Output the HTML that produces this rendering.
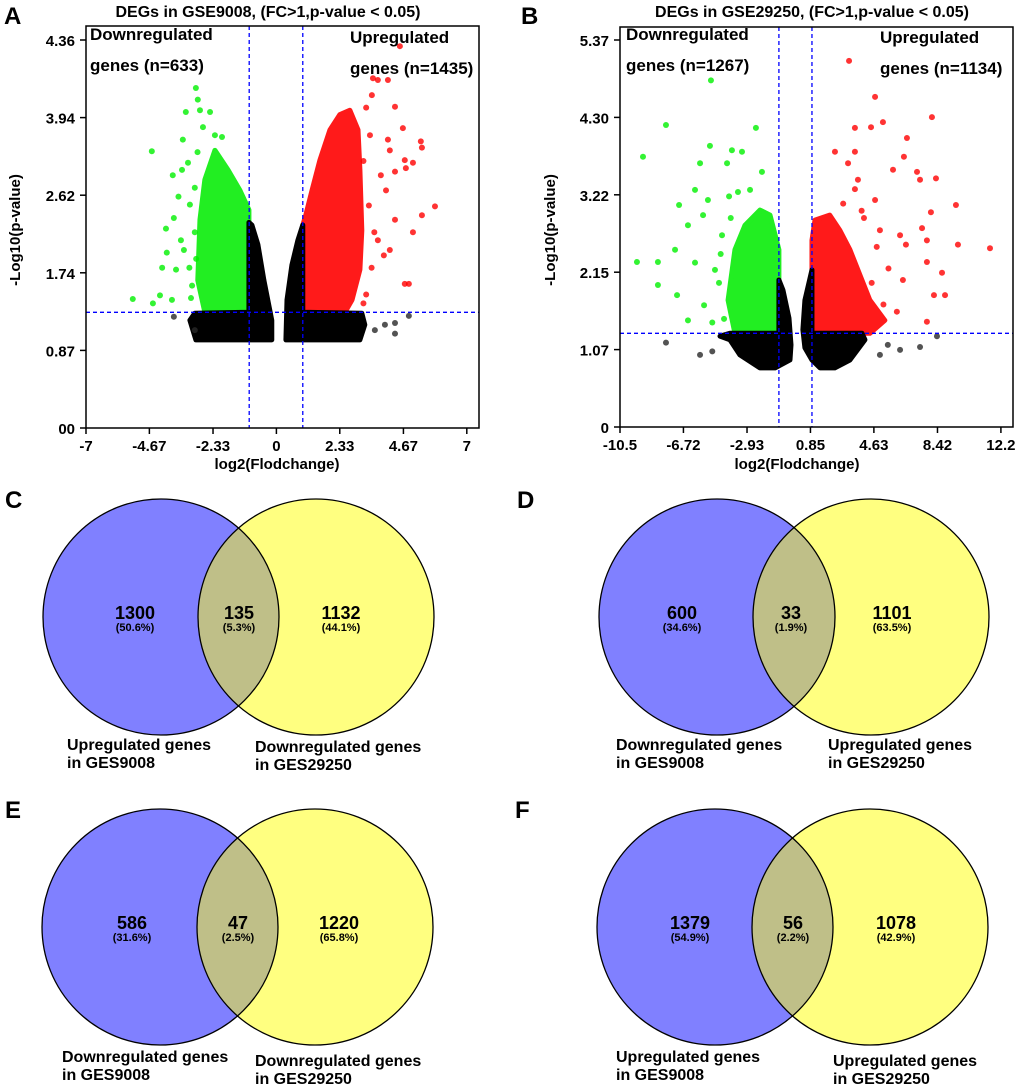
<!DOCTYPE html>
<html><head><meta charset="utf-8">
<style>
html,body{margin:0;padding:0;background:#fff;}
svg{display:block;font-family:"Liberation Sans",Arial,sans-serif;}
.t{font-weight:bold;font-size:16px;fill:#000;}
.tick{font-weight:bold;font-size:15px;fill:#000;}
.ann{font-weight:bold;font-size:17px;fill:#000;}
.lab{font-weight:bold;font-size:24px;fill:#000;}
.vn{font-weight:bold;font-size:18px;fill:#000;}
.vp{font-weight:bold;font-size:11px;fill:#000;}
.vl{font-weight:bold;font-size:16px;fill:#000;}
</style></head>
<body>
<svg id="fig" width="1020" height="1089" viewBox="0 0 1020 1089"></svg>
<script>
// ---------- Panel A data ----------
const aXTicks=[-7,-4.67,-2.33,0,2.33,4.67,7];
const aYTickLabels=["00","0.87","1.74","2.62","3.94","4.36"];
const aGreenPts=[[-2.96,3.82],[-2.89,3.69],[-3.33,3.55],[-2.81,3.57],[-2.44,3.55],[-2.70,3.38],[-3.44,3.24],[-2.26,3.29],[-4.58,3.11],[-3.81,2.84],[-3.25,2.98],[-2.00,3.27],[-3.47,2.90],[-4.06,2.24],[-3.77,2.36],[-4.03,1.97],[-3.84,1.44],[-5.28,1.45],[-4.54,1.40],[-4.28,1.49],[-3.14,1.46],[-3.69,1.78],[-3.40,2.00],[-3.51,2.11],[-3.18,2.51],[-3.6,2.6],[-3.0,2.2],[-3.2,1.8],[-2.9,3.1],[-3.1,1.6],[-4.2,1.8],[-3.0,2.7],[-2.95,1.9]];
const aRedPts=[[4.54,4.29],[3.73,3.91],[3.55,3.93],[4.10,3.91],[4.36,3.61],[4.65,3.37],[4.10,3.24],[4.17,3.12],[4.72,3.01],[5.31,3.22],[5.35,3.15],[5.02,2.98],[4.36,2.88],[4.76,2.92],[5.83,2.49],[5.35,2.39],[5.02,2.20],[4.03,2.67],[3.84,2.84],[4.72,1.62],[4.87,1.62],[3.73,2.11],[3.95,1.94],[3.44,3.29],[3.51,3.74],[4.17,2.00],[4.36,2.34],[3.3,1.5],[3.5,1.8],[3.4,2.5],[3.2,3.0],[3.6,2.2],[3.3,3.6],[3.2,1.4]];
const aGrayPts=[[-3.77,1.25],[-3.0,1.10],[3.99,1.16],[4.36,1.18],[4.87,1.26],[4.36,1.06],[3.62,1.10]];
const aBlackLeft=[[-2.96,0.99],[-0.17,0.99],[-0.17,1.21],[-0.46,1.66],[-0.68,2.06],[-0.90,2.28],[-1.01,2.31],[-1.01,1.30],[-3.0,1.29],[-3.18,1.21]];
const aBlackRight=[[0.35,0.99],[3.07,0.99],[3.25,1.16],[3.14,1.29],[0.97,1.30],[0.97,2.28],[0.79,2.11],[0.57,1.83],[0.39,1.44]];
const aGreenDense=[[-2.63,1.30],[-1.01,1.30],[-1.01,2.45],[-1.34,2.67],[-1.78,2.90],[-2.26,3.12],[-2.63,2.79],[-2.81,2.34],[-2.89,1.66]];
const aRedDense=[[0.97,1.30],[2.52,1.30],[2.78,1.44],[3.07,1.78],[3.14,2.22],[3.07,2.90],[3.00,3.35],[2.70,3.57],[2.33,3.52],[1.97,3.35],[1.60,3.01],[1.31,2.67],[1.08,2.39],[0.97,2.28]];
// ---------- Panel B data ----------
const bXTicks=[-10.5,-6.72,-2.93,0.85,4.63,8.42,12.2];
const bYTickLabels=["0","1.07","2.15","3.22","4.30","5.37"];
const bGreenPts=[[-5.08,4.81],[-7.76,4.19],[-2.40,4.15],[-9.13,3.75],[-5.14,3.90],[-3.83,3.84],[-3.23,3.82],[-5.73,3.66],[-4.12,3.66],[-2.04,3.54],[-6.03,3.29],[-2.75,3.29],[-6.98,3.08],[-5.26,3.15],[-3.47,3.26],[-5.55,2.94],[-6.45,2.80],[-7.22,2.46],[-6.03,2.28],[-8.24,2.29],[-9.49,2.29],[-8.24,1.97],[-7.10,1.83],[-6.45,1.48],[-5.49,1.69],[-4.84,2.18],[-4.42,2.66],[-4.3,1.5],[-4.6,2.0],[-4.0,3.2],[-3.9,2.9],[-4.5,2.4],[-5.0,1.45]];
const bRedPts=[[3.15,5.08],[4.70,4.58],[8.09,4.30],[5.17,4.23],[3.50,4.15],[4.46,4.16],[6.60,4.01],[2.31,3.82],[3.50,3.82],[6.42,3.75],[5.77,3.57],[3.09,3.66],[3.68,3.43],[4.70,3.15],[4.04,2.90],[7.20,3.54],[7.38,3.43],[8.33,3.45],[9.52,3.08],[8.03,2.98],[7.50,2.76],[6.19,2.66],[4.99,2.73],[6.54,2.53],[7.79,2.29],[8.69,2.14],[8.87,1.83],[6.36,2.04],[9.64,2.53],[11.55,2.48],[7.79,2.59],[8.21,1.83],[7.79,1.46],[4.5,2.0],[5.2,1.7],[5.5,2.2],[3.5,3.3],[4.8,2.5],[6.0,1.6],[3.9,3.0],[2.8,3.1]];
const bGrayPts=[[-7.76,1.17],[-5.73,1.00],[7.38,1.11],[8.39,1.26],[5.46,1.14],[6.19,1.07],[4.99,1.00],[-5.0,1.05]];
const bBlackLeft=[[-3.95,1.21],[-3.35,1.00],[-2.16,0.82],[-1.26,0.82],[-0.37,0.93],[-0.31,1.14],[-0.43,1.51],[-0.79,1.90],[-1.03,2.04],[-1.03,1.30],[-3.95,1.30],[-4.54,1.26]];
const bBlackRight=[[0.94,2.18],[0.94,1.30],[3.92,1.30],[4.10,1.21],[3.20,0.93],[2.30,0.82],[1.42,0.82],[0.94,0.93],[0.52,1.10],[0.40,1.35],[0.52,1.76]];
const bGreenDense=[[-3.65,1.30],[-1.03,1.30],[-1.03,2.46],[-1.56,2.94],[-2.16,3.01],[-3.05,2.80],[-3.65,2.46],[-4.06,1.76]];
const bRedDense=[[0.94,1.30],[4.39,1.30],[5.28,1.48],[4.39,1.76],[3.20,2.46],[2.60,2.73],[2.00,2.94],[1.12,2.87],[0.94,2.59]];
// ---------- Venn data ----------
const vennPanels=[
 {id:"c",letter:"C",lx:5,ly:508,cx:[161,316],cy:617,r:118,counts:["1300","135","1132"],pcts:["(50.6%)","(5.3%)","(44.1%)"],tx:[135,239,341],
  labels:[["Upregulated genes","in GES9008"],["Downregulated genes","in GES29250"]],labX:[67,255],labY:[750,752]},
 {id:"d",letter:"D",lx:517,ly:508,cx:[717,871],cy:617,r:118,counts:["600","33","1101"],pcts:["(34.6%)","(1.9%)","(63.5%)"],tx:[682,791,892],
  labels:[["Downregulated genes","in GES9008"],["Upregulated genes","in GES29250"]],labX:[616,828],labY:[750,750]},
 {id:"e",letter:"E",lx:5,ly:818,cx:[160,315],cy:927,r:118,counts:["586","47","1220"],pcts:["(31.6%)","(2.5%)","(65.8%)"],tx:[132,238,339],
  labels:[["Downregulated genes","in GES9008"],["Downregulated genes","in GES29250"]],labX:[62,255],labY:[1062,1066]},
 {id:"f",letter:"F",lx:515,ly:818,cx:[715,870],cy:927,r:118,counts:["1379","56","1078"],pcts:["(54.9%)","(2.2%)","(42.9%)"],tx:[690,793,896],
  labels:[["Upregulated genes","in GES9008"],["Upregulated genes","in GES29250"]],labX:[616,833],labY:[1062,1066]}
];

const NS="http://www.w3.org/2000/svg";
const svg=document.getElementById('fig');
function mk(tag,attrs,parent,text){const e=document.createElementNS(NS,tag);for(const k in attrs)e.setAttribute(k,attrs[k]);if(text!==undefined)e.textContent=text;(parent||svg).appendChild(e);return e;}

function volcano(o){
  const g=mk('g',{});
  
  
  const sx=v=>o.x0+(v-o.xmin)*o.xs;
  const sy=v=>o.y0-v*o.ys;
  const poly=(pts,fill,name)=>{const p=mk('polygon',{points:pts.map(q=>sx(q[0])+','+sy(q[1])).join(' '),fill:fill,stroke:fill,'stroke-width':5,'stroke-linejoin':'round'},g);
    
    };
  const dots=(pts,fill,name)=>{pts.forEach(q=>{const c=mk('circle',{cx:sx(q[0]),cy:sy(q[1]),r:3,fill:fill},g);
    
    });};
  poly(o.greenDense,'#22ee22','green-dense-points');
  poly(o.redDense,'#ff1a1a','red-dense-points');
  poly(o.blackLeft,'#000','black-dense-left');
  poly(o.blackRight,'#000','black-dense-right');
  dots(o.greenPts,'rgba(0,240,0,0.8)','green-point');
  dots(o.redPts,'rgba(255,0,0,0.8)','red-point');
  dots(o.grayPts,'rgba(40,40,40,0.8)','gray-point');
  const hl=mk('line',{x1:o.fx0,x2:o.fx1,y1:sy(1.30),y2:sy(1.30),stroke:'#0000ff','stroke-width':1.3,'stroke-dasharray':'4,3'},g);
  
  
  o.vlines.forEach(v=>{const l=mk('line',{x1:sx(v),x2:sx(v),y1:o.fy0,y2:o.y0,stroke:'#0000ff','stroke-width':1.3,'stroke-dasharray':'4,3'},g);
    
    });
  const fr=mk('rect',{x:o.fx0,y:o.fy0,width:o.fx1-o.fx0,height:o.y0-o.fy0,fill:'none',stroke:'#000','stroke-width':1.5},g);
  
  
  o.xTicks.forEach(v=>{const x=sx(v);mk('line',{x1:x,x2:x,y1:o.y0,y2:o.y0+6,stroke:'#000','stroke-width':1.5},g);
    const t=mk('text',{x:x,y:o.y0+23,'text-anchor':'middle',class:'tick'},g,String(v));
    
    });
  o.yTickLabels.forEach((s,i)=>{const y=o.y0-i*o.ystep;mk('line',{x1:o.fx0-6,x2:o.fx0,y1:y,y2:y,stroke:'#000','stroke-width':1.5},g);
    const t=mk('text',{x:o.fx0-11,y:y+6,'text-anchor':'end',class:'tick'},g,s);
    
    });
  const xt=mk('text',{x:o.xlabX,y:469,'text-anchor':'middle',class:'tick','font-size':'16'},g,'log2(Flodchange)');
  
  
  const yt=mk('text',{x:0,y:0,'text-anchor':'middle',class:'tick',transform:'translate('+o.ylabX+',230) rotate(-90)'},g,'-Log10(p-value)');
  
  
  const ti=mk('text',{x:o.titleX,y:17,'text-anchor':'middle',class:'t'},g,o.title);
  
  
  o.ann.forEach(a=>{const t=mk('text',{x:a[0],y:a[1],class:'ann'},g,a[2]);
    
    });
  const L=mk('text',{x:o.letter[0],y:o.letter[1],class:'lab'},g,o.letter[2]);
  
  
}

volcano({id:'a',x0:86,xmin:-7,xs:27.2,y0:428,ys:89,ystep:77.6,fx0:86,fx1:479,fy0:26,
  xTicks:aXTicks,yTickLabels:aYTickLabels,greenPts:aGreenPts,redPts:aRedPts,grayPts:aGrayPts,
  blackLeft:aBlackLeft,blackRight:aBlackRight,greenDense:aGreenDense,redDense:aRedDense,vlines:[-1.0,0.97],
  xlabX:277,ylabX:20,titleX:268,title:'DEGs in GSE9008, (FC>1,p-value < 0.05)',
  ann:[[90,40,'Downregulated'],[90,71,'genes (n=633)'],[350,43,'Upregulated'],[350,74,'genes (n=1435)']],letter:[4,24,'A']});
volcano({id:'b',x0:620,xmin:-10.5,xs:16.78,y0:427,ys:72.07,ystep:77.4,fx0:620,fx1:1013,fy0:27,
  xTicks:bXTicks,yTickLabels:bYTickLabels,greenPts:bGreenPts,redPts:bRedPts,grayPts:bGrayPts,
  blackLeft:bBlackLeft,blackRight:bBlackRight,greenDense:bGreenDense,redDense:bRedDense,vlines:[-1.03,0.94],
  xlabX:797,ylabX:555,titleX:812,title:'DEGs in GSE29250, (FC>1,p-value < 0.05)',
  ann:[[626,40,'Downregulated'],[626,71,'genes (n=1267)'],[880,43,'Upregulated'],[880,74,'genes (n=1134)']],letter:[521,24,'B']});

vennPanels.forEach(p=>{
  const g=mk('g',{});
  
  
  const cp=mk('clipPath',{id:'clip-'+p.id},g);
  mk('circle',{cx:p.cx[0],cy:p.cy,r:p.r},cp);
  const c1=mk('circle',{cx:p.cx[0],cy:p.cy,r:p.r,fill:'#8080ff'},g);
  
  
  const c2=mk('circle',{cx:p.cx[1],cy:p.cy,r:p.r,fill:'#ffff80'},g);
  
  
  const ov=mk('circle',{cx:p.cx[1],cy:p.cy,r:p.r,fill:'#bfbf88','clip-path':'url(#clip-'+p.id+')'},g);
  
  
  mk('circle',{cx:p.cx[0],cy:p.cy,r:p.r,fill:'none',stroke:'#000','stroke-width':1.3},g);
  mk('circle',{cx:p.cx[1],cy:p.cy,r:p.r,fill:'none',stroke:'#000','stroke-width':1.3},g);
  p.counts.forEach((c,i)=>{
    const t=mk('text',{x:p.tx[i],y:p.cy+2,'text-anchor':'middle',class:'vn'},g,c);
    
    
    const q=mk('text',{x:p.tx[i],y:p.cy+14,'text-anchor':'middle',class:'vp'},g,p.pcts[i]);
    
    
  });
  p.labels.forEach((ls,i)=>{ls.forEach((s,j)=>{
    const t=mk('text',{x:p.labX[i],y:p.labY[i]+j*18,class:'vl'},g,s);
    
    });});
  const L=mk('text',{x:p.lx,y:p.ly,class:'lab'},g,p.letter);
  
  
});
</script>
</body></html>
